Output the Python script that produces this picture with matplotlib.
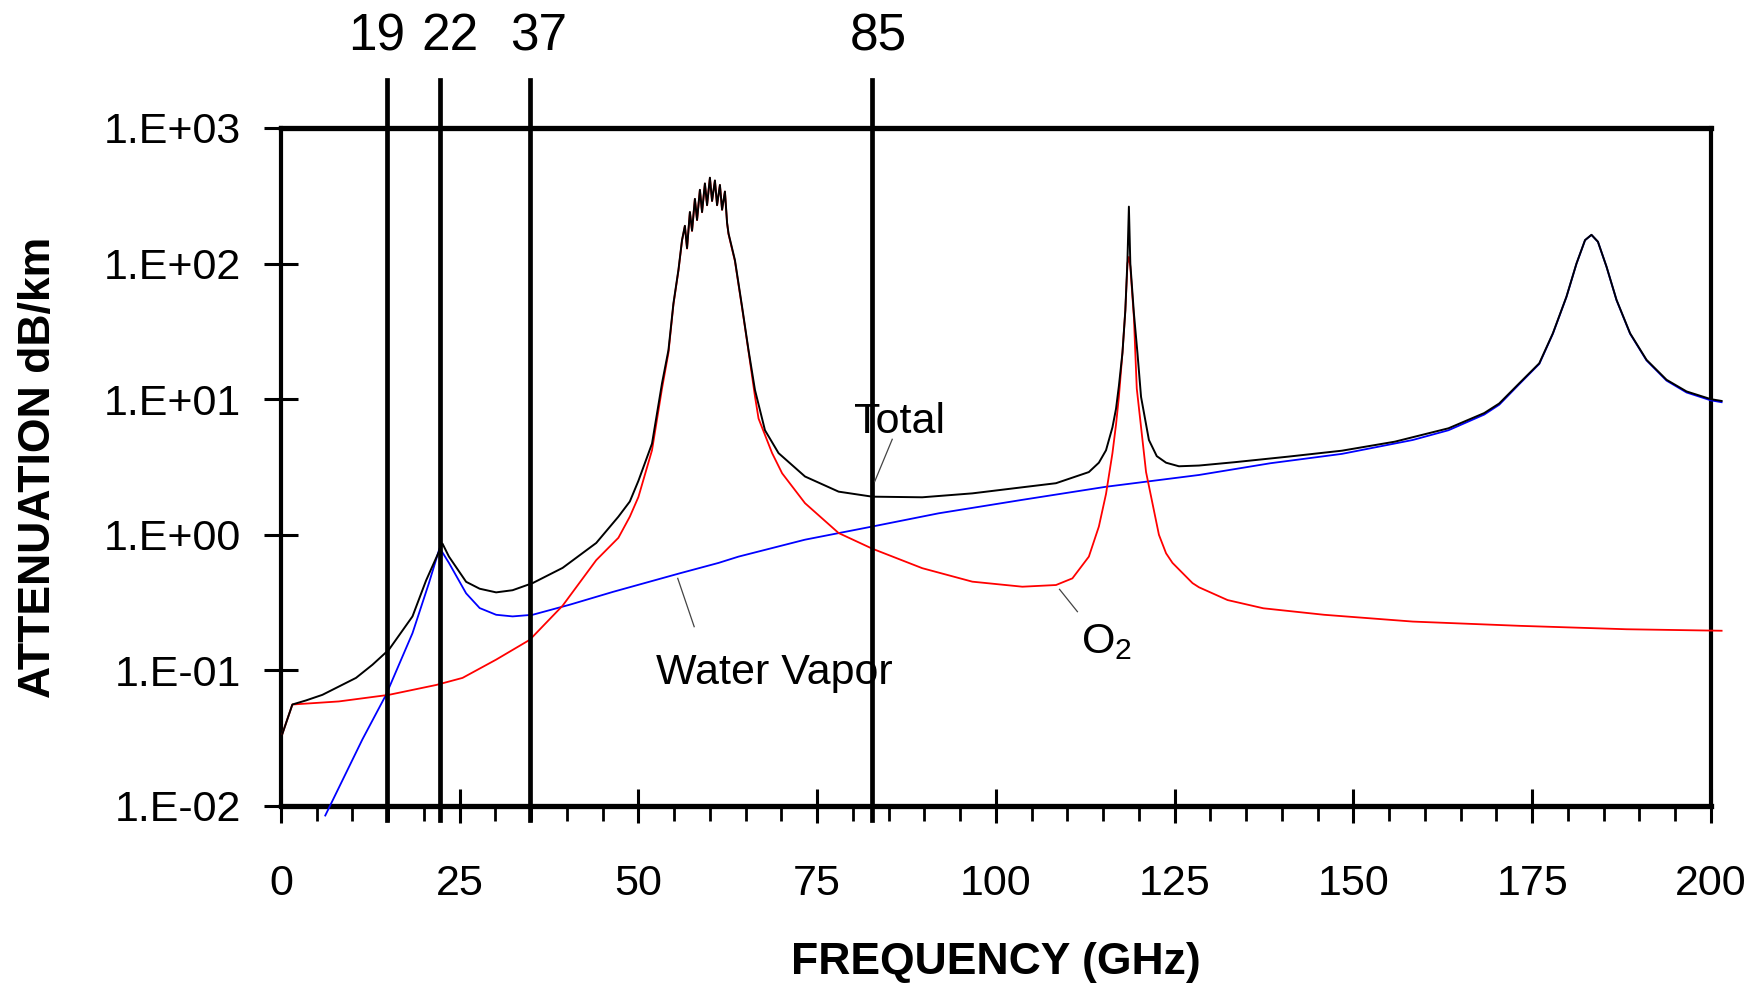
import numpy as np
import matplotlib.pyplot as plt
import matplotlib.transforms as mtransforms
from matplotlib.ticker import MultipleLocator, NullLocator

plt.rcParams['font.family'] = ['Liberation Sans', 'DejaVu Sans']
plt.rcParams['mathtext.fontset'] = 'custom'
plt.rcParams['mathtext.rm'] = 'Liberation Sans'
plt.rcParams['mathtext.it'] = 'Liberation Sans'

# Total attenuation (black)
freq_total = [0.2, 1.6, 3.5, 5.8, 10.5, 12.8, 15.1, 18.4, 20.3, 22.6, 23.5, 25.9, 27.8, 30.1,
              32.4, 35.2, 39.4, 44.1, 47.2, 48.8, 50.0, 51.9, 53.3, 54.2, 54.9, 55.6,
              56.1, 56.5, 56.8, 57.2, 57.5, 57.9, 58.2, 58.6, 58.9, 59.3, 59.6, 60.0,
              60.3, 60.7, 61.0, 61.4, 61.7, 62.1, 62.4, 62.6, 63.5, 64.5, 65.4, 66.3,
              67.7, 69.6, 73.3, 78.0, 82.7, 89.7, 96.7, 103.7, 108.4, 113.0, 114.4,
              115.4, 116.3, 116.8, 117.2, 117.7, 118.1, 118.4, 118.6, 118.8, 119.3,
              119.8, 120.3, 121.4, 122.5, 123.8, 125.6, 128.4, 133.4, 140.9, 148.4,
              155.8, 163.3, 168.3, 170.4, 173.2, 176.0, 177.9, 179.8, 181.2, 182.4,
              183.3, 184.2, 185.4, 186.8, 188.7, 191.0, 193.8, 196.6, 200.0, 201.5]
att_total = [0.034, 0.056, 0.060, 0.066, 0.088, 0.11, 0.142, 0.25, 0.46, 0.86, 0.69, 0.45, 0.40, 0.376,
             0.39, 0.44, 0.57, 0.87, 1.36, 1.76, 2.5, 4.7, 13.1, 23, 51, 90,
             149, 190, 130, 240, 175, 300, 210, 350, 240, 390, 270, 430,
             290, 410, 270, 380, 250, 340, 200, 167, 106, 48, 23, 11.7,
             5.9, 4.0, 2.69, 2.08, 1.91, 1.89, 2.02, 2.24, 2.4, 2.9, 3.4,
             4.2, 6.2, 8.5, 12.5, 22, 45, 106, 263, 100, 43,
             21.8, 10.4, 5.0, 3.8, 3.4, 3.2, 3.24, 3.43, 3.77, 4.17,
             4.86, 6.1, 7.9, 9.3, 13.1, 18.4, 30.6, 57, 100, 149,
             163, 145, 95, 54, 30.6, 19.5, 13.9, 11.4, 10.0, 9.7]

# Oxygen (red)
freq_o2 = [0.2, 1.6, 8.1, 15.1, 21.7, 25.4, 30.1, 34.8, 39.4, 44.1, 47.2, 48.8, 50.0,
           51.9, 53.3, 54.2, 54.9, 55.6, 56.1, 56.5, 56.8, 57.2, 57.5, 57.9, 58.2,
           58.6, 58.9, 59.3, 59.6, 60.0, 60.3, 60.7, 61.0, 61.4, 61.7, 62.1, 62.4,
           62.6, 63.5, 64.5, 65.4, 66.3, 66.8, 68.7, 70.1, 73.3, 78.0, 82.7, 89.7,
           96.7, 103.7, 108.4, 110.7, 113.0, 114.4, 115.4, 116.3, 116.8, 117.2,
           117.7, 118.1, 118.4, 118.6, 118.8, 119.3, 119.7, 121.0, 122.8, 123.8,
           124.7, 127.5, 128.4, 132.4, 137.4, 145.9, 158.3, 173.3, 188.2, 201.5]
att_o2 = [0.034, 0.056, 0.059, 0.066, 0.078, 0.088, 0.12, 0.168, 0.30, 0.65, 0.95, 1.36, 1.9,
          4.2, 12.0, 22, 50, 89, 148, 189, 129, 239, 174, 299, 209,
          349, 239, 389, 269, 429, 289, 409, 269, 379, 249, 339, 199,
          165, 104, 47, 22.5, 10.5, 7.2, 4.0, 2.84, 1.71, 1.03, 0.79, 0.567,
          0.451, 0.414, 0.426, 0.477, 0.69, 1.15, 2.0, 4.0, 6.5, 10.4,
          22, 45, 100, 112, 95, 40, 12, 2.9, 1.0, 0.73,
          0.62, 0.44, 0.41, 0.33, 0.287, 0.257, 0.229, 0.213, 0.201, 0.196]

# Water vapor (blue)
freq_h2o = [6.2, 11.4, 14.7, 18.4, 20.7, 22.2, 23.5, 25.9, 27.8, 30.1, 32.4, 35.2, 40.4,
            46.5, 55.8, 61.2, 64.0, 73.3, 82.7, 92.0, 103.7, 115.4, 128.4, 138.4,
            148.4, 158.3, 163.3, 168.3, 170.4, 173.2, 176.0, 177.9, 179.8, 181.2,
            182.4, 183.3, 184.2, 185.4, 186.8, 188.7, 191.0, 193.8, 196.6, 200.0, 201.5]
att_h2o = [0.0085, 0.031, 0.066, 0.188, 0.44, 0.80, 0.62, 0.37, 0.288, 0.257, 0.25, 0.257, 0.305,
           0.38, 0.52, 0.62, 0.69, 0.92, 1.15, 1.44, 1.81, 2.26, 2.76, 3.37,
           3.95, 5.0, 5.9, 7.7, 9.1, 12.9, 18.2, 30.4, 56.8, 99.8,
           148.8, 162.8, 144.8, 94.8, 53.8, 30.4, 19.3, 13.7, 11.2, 9.8, 9.5]

# radiometer channels
chan_freq = [14.8, 22.3, 34.9, 82.6]
chan_label_x = [13.4, 23.6, 36.0, 83.5]
chan_labels = ['19', '22', '37', '85']

ytick_vals = [1e-2, 1e-1, 1e0, 1e1, 1e2, 1e3]
ytick_labels = ['1.E-02', '1.E-01', '1.E+00', '1.E+01', '1.E+02', '1.E+03']

fig = plt.figure(figsize=(17.58, 9.83), dpi=100)
ax = fig.add_axes([0.1598, 0.1801, 0.8134, 0.6897])
ax.set_yscale('log')

ax.plot(freq_h2o, att_h2o, color='#0000ff', lw=1.3, clip_on=False, zorder=3)
ax.plot(freq_o2, att_o2, color='#ff0000', lw=1.3, clip_on=False, zorder=3)
ax.plot(freq_total, att_total, color='black', lw=1.4, clip_on=False, zorder=4)

ax.set_xlim(0, 200)
ax.set_ylim(1e-2, 1e3)

trans = mtransforms.blended_transform_factory(ax.transData, ax.transAxes)
for f in chan_freq:
    ax.axvline(f, ymin=-0.02, ymax=1.071, color='black', lw=3.4, clip_on=False, zorder=5)
for x, lab in zip(chan_label_x, chan_labels):
    ax.text(x, 1.115, lab, transform=trans, ha='center', va='baseline', fontsize=37)

# curve labels with leader lines
ax.text(86.5, 5.64, 'Total', ha='center', va='baseline', fontsize=31)
ax.plot([85.5, 83.05], [5.06, 2.47], color='#444444', lw=0.9, zorder=6)
ax.text(52.5, 0.079, 'Water Vapor', ha='left', va='baseline', fontsize=31)
ax.plot([57.8, 55.5], [0.21, 0.477], color='#444444', lw=0.9, zorder=6)
ax.text(111.9, 0.134, r'O$_2$', ha='left', va='baseline', fontsize=31)
ax.plot([111.4, 108.9], [0.271, 0.396], color='#444444', lw=0.9, zorder=6)

ax.set_yticks(ytick_vals, ytick_labels)
ax.yaxis.set_minor_locator(NullLocator())
ax.xaxis.set_major_locator(MultipleLocator(25))
ax.xaxis.set_minor_locator(MultipleLocator(5))
ax.tick_params(axis='both', which='major', direction='inout', length=24, width=2.2, labelsize=31)
ax.tick_params(axis='y', which='major', pad=17)
ax.tick_params(axis='x', which='major', pad=30)
ax.tick_params(axis='x', which='minor', direction='out', length=11, width=2)

for side in ['top', 'bottom']:
    ax.spines[side].set_linewidth(3.8)
for side in ['left', 'right']:
    ax.spines[side].set_linewidth(3.0)

ax.set_xlabel('FREQUENCY (GHz)', fontsize=32, fontweight='bold')
ax.set_ylabel('ATTENUATION dB/km', fontsize=32, fontweight='bold')
ax.xaxis.set_label_coords(0.5, -0.20)
ax.yaxis.set_label_coords(-0.155, 0.5)

fig.savefig('out.png', dpi=100)
